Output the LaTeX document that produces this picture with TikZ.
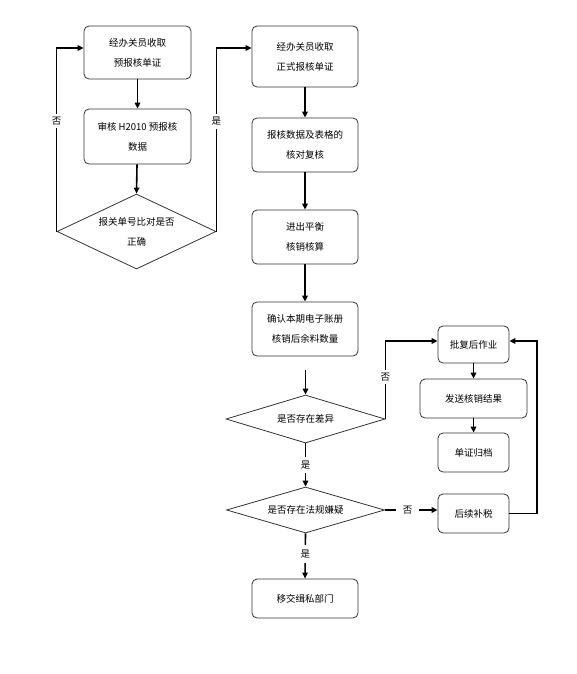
\documentclass[tikz,border=0pt]{standalone}
\usepackage{fontspec}
\setmainfont{Noto Sans CJK SC}
\usetikzlibrary{arrows.meta,shapes.geometric,calc}
\begin{document}
\begin{tikzpicture}[x=1pt,y=-1pt,
  box/.style={draw=black!80, line width=0.8pt, rounded corners=5pt, align=center,
    font=\fontsize{9.5}{20}\selectfont, inner sep=0pt},
  dia/.style={draw=black!80, line width=0.8pt, shape=diamond, align=center,
    font=\fontsize{9.5}{20}\selectfont, inner sep=0pt, shape aspect=2.2},
  conn/.style={line width=1.6pt, -{Triangle[length=6pt,width=5.5pt]}},
  line/.style={line width=1.6pt},
  lab/.style={fill=white, font=\fontsize{9.5}{12}\selectfont, inner sep=3pt}]
\useasboundingbox (0,0) rectangle (577,674);

\node[box, minimum width=107, minimum height=53] (b1) at (137.5,52.5) {经办关员收取\\预报核单证};
\node[box, minimum width=107, minimum height=55] (b2) at (137.5,136.5) {审核 H2010 预报核\\数据};
\node[dia, minimum width=159, minimum height=75] (d1) at (136.5,231.5) {报关单号比对是否\\正确};

\node[box, minimum width=106, minimum height=61] (b3) at (305,56.5) {经办关员收取\\正式报核单证};
\node[box, minimum width=106, minimum height=54] (b4) at (305,145) {报核数据及表格的\\核对复核};
\node[box, minimum width=106, minimum height=54] (b5) at (305,237) {进出平衡\\核销核算};
\node[box, minimum width=106, minimum height=54] (b6) at (305,329) {确认本期电子账册\\核销后余料数量};
\node[dia, minimum width=159, minimum height=48] (d2) at (305.5,419) {是否存在差异};
\node[dia, minimum width=158, minimum height=46] (d3) at (305.5,510) {是否存在法规嫌疑};
\node[box, minimum width=106, minimum height=39] (b11) at (305,598.5) {移交缉私部门};

\node[box, minimum width=71, minimum height=37] (b7) at (473.5,344.5) {批复后作业};
\node[box, minimum width=107, minimum height=39] (b8) at (473.5,398.5) {发送核销结果};
\node[box, minimum width=71, minimum height=39] (b9) at (473.5,452.5) {单证归档};
\node[box, minimum width=71, minimum height=39] (b10) at (473.5,513.5) {后续补税};

\coordinate (b6low) at (305.5,370);
\coordinate (rloop) at (537,513.5);

\draw[conn] (b1) -- (b2);
\draw[conn] (b2) -- (d1.north);
\draw[conn] (d1.west) |- ($(b1.west)+(0,-4.5)$) node[pos=0.3, lab] {否};
\draw[conn] (d1.east) |- ($(b3.west)+(0,-8.5)$) node[pos=0.3, lab] {是};
\draw[conn] (b3) -- (b4);
\draw[conn] (b4) -- (b5);
\draw[conn] (b5) -- (b6);
\draw[conn] (b6low) -- (d2.north);
\draw[conn] (d2.east) |- ($(b7.west)+(0,-3.5)$) node[pos=0.27, lab] {否};
\draw[conn] (d2.south) -- (d3.north) node[midway, lab, inner sep=4pt] {是};
\draw[conn] (d3.east) -- (b10.west |- d3.east) node[pos=0.43, lab, inner xsep=7pt] {否};
\draw[conn] (d3.south) -- (b11.north) node[pos=0.45, lab, inner sep=5pt] {是};
\draw[conn] (b7) -- (b8);
\draw[conn] (b8) -- (b9);
\draw[conn] (b10.east) -- (rloop) |- ($(b7.east)+(0,-3.5)$);
\end{tikzpicture}
\end{document}
